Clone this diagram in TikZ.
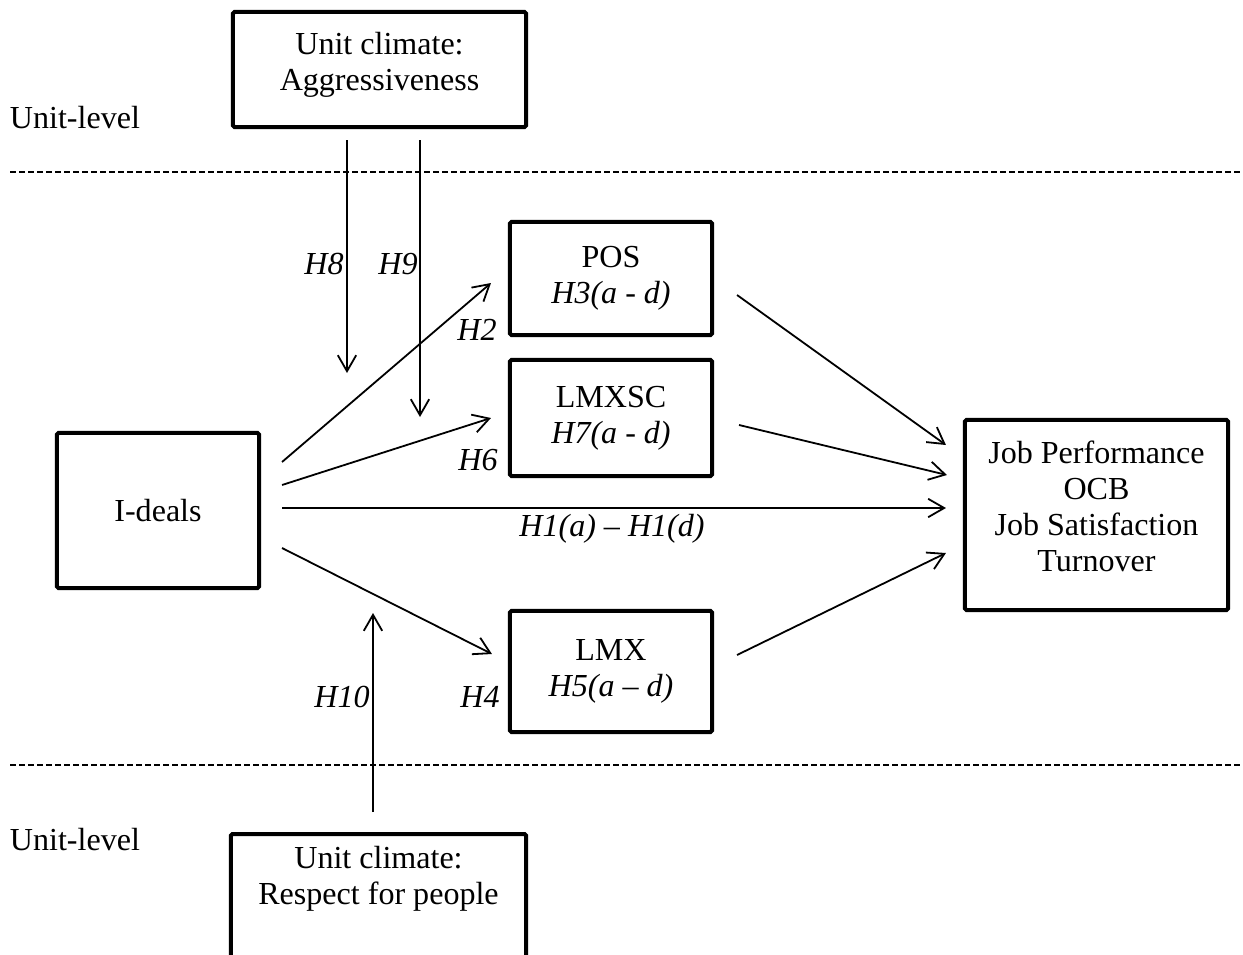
\documentclass[tikz,border=0pt]{standalone}
\usepackage{fontspec}
\setmainfont{Liberation Serif}
\usetikzlibrary{arrows.meta,calc}

\begin{document}
\begin{tikzpicture}[x=0.025cm,y=-0.025cm,
  font=\fontsize{22.8}{25.6}\selectfont,
  box/.style={draw,line width=0.1cm,rounded corners=0.4mm,align=center,inner sep=0pt},
  arr/.style={line width=0.045cm,-{Straight Barb[length=4mm,width=4.6mm]}},
  levelsep/.style={line width=0.033cm,dash pattern=on 0.15cm off 0.075cm},
  hyp/.style={font=\fontsize{22.8}{25.6}\selectfont\itshape}]

\useasboundingbox (0,0) rectangle (1243,954);

%-------------------------------------------------------------------
% Level separators
\foreach \y in {172,765}{
    \draw[levelsep] (10,\y)--(1243,\y);
}
\node[anchor=west] (toplevel) at (5,118) {Unit-level};
\node[anchor=west] (botlevel) at (5,840) {Unit-level};

%-------------------------------------------------------------------
% Boxes
\node[box,minimum width=7.325cm,minimum height=2.875cm,text depth=0.4cm] (aggr) at (379.5,69.5)
  {Unit climate:\\Aggressiveness};
\node[box,anchor=north,minimum width=7.375cm,inner ysep=0.3cm,text depth=1.8cm] (resp) at (378.5,832)
  {Unit climate:\\Respect for people};

\node[box,minimum width=5.05cm,minimum height=3.875cm] (ideals) at (158,510.5) {I-deals};

\node[box,minimum width=5.05cm,minimum height=2.825cm] (pos) at (611,278.5)
  {POS\\\textit{H3(a - d)}};
\node[box,minimum width=5.05cm,minimum height=2.9cm] (lmxsc) at (611,418)
  {LMXSC\\\textit{H7(a - d)}};
\node[box,minimum width=5.05cm,minimum height=3.025cm] (lmx) at (611,671.5)
  {LMX\\\textit{H5(a -- d)}};

\node[box,minimum width=6.575cm,minimum height=4.75cm,text depth=0.45cm] (outc) at (1096.5,515)
  {Job Performance\\OCB\\Job Satisfaction\\Turnover};

%-------------------------------------------------------------------
% Direct and mediated paths
\draw[arr] ($(ideals.east)+(21,-48.5)$)--($(pos.west)+(-17,4.5)$);
\draw[arr] ($(ideals.east)+(21,-25.5)$)--($(lmxsc.west)+(-17,0)$);
\draw[arr] ($(ideals.east)+(21,-2.5)$)--($(outc.west)+(-17,-7)$);
\draw[arr] ($(ideals.east)+(21,37.5)$)--($(lmx.west)+(-16,-17.5)$);

\draw[arr] ($(pos.east)+(23,16.5)$)--($(outc.west)+(-17,-70)$);
\draw[arr] ($(lmxsc.east)+(25,7)$)--($(outc.west)+(-16,-40)$);
\draw[arr] ($(lmx.east)+(23,-16.5)$)--($(outc.west)+(-17,38)$);

% Cross-level moderators
\coordinate (h8end) at (347,373);
\coordinate (h9end) at (420,417);
\coordinate (h10end) at (373,613);
\draw[arr] ($(aggr.south)+(-32.5,11)$)--(h8end);
\draw[arr] ($(aggr.south)+(40.5,11)$)--(h9end);
\draw[arr] ($(resp.north)+(-5.5,-20)$)--(h10end);

%-------------------------------------------------------------------
% Hypothesis labels
\foreach \x/\y/\lbl/\nm in {324/264/H8/lh8,398/264/H9/lh9,477/330/H2/lh2,
    478/460/H6/lh6,480/697/H4/lh4,342/697/H10/lh10}{
    \node[hyp] (\nm) at (\x,\y) {\lbl};
}
\node[hyp] (lh1) at (612,529) {H1(a) -- H1(d)};

\end{tikzpicture}
\end{document}
